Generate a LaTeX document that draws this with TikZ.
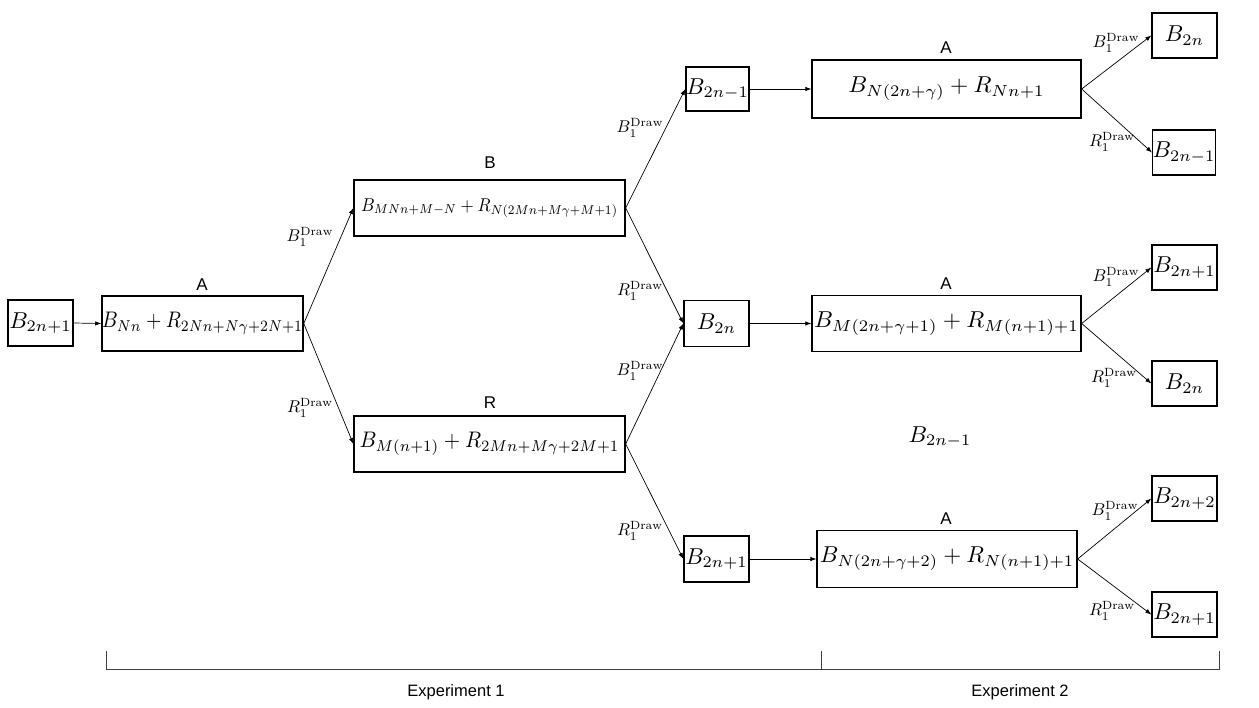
\documentclass[tikz,border=0pt]{standalone}
\usepackage{graphicx}
\usepackage{fontspec}
\setsansfont{Liberation Sans}
\usetikzlibrary{arrows.meta}
\newcommand{\msc}[3]{\scalebox{#1}[#2]{$#3$}}
\newcommand{\mbig}[1]{\msc{2.3}{2.3}{#1}}
\newcommand{\mlab}[1]{\msc{1.7}{1.7}{#1}}
\begin{document}
\begin{tikzpicture}[x=1pt,y=-1pt,
  bx/.style={draw, line width=1.3pt, inner sep=0pt},
  grp/.style={font=\sffamily\fontsize{17}{20}\selectfont, inner sep=0pt},
  lbl/.style={inner sep=0pt},
  arr/.style={-{Latex[length=6pt,width=4.5pt]}, line width=0.7pt},
  brk/.style={line width=0.7pt, draw=black!75}]
\useasboundingbox (0,0) rectangle (1259,708);

% first column
\node[bx, minimum width=65, minimum height=46] (s0) at (40.5,323) {\mbig{B_{2n+1}}};
\node[bx, minimum width=201, minimum height=55] (a1) at (202.5,323.5) {\msc{1.98}{2.25}{B_{Nn}+R_{2Nn+N\gamma+2N+1}}};
\node[grp] at (202,285) {A};

% second column
\node[bx, minimum width=271, minimum height=56] (b) at (489.5,208) {\msc{1.7}{1.85}{B_{MNn+M-N}+R_{N(2Mn+M\gamma+M+1)}}};
\node[grp] at (490,163) {B};
\node[bx, minimum width=271, minimum height=56] (r) at (489.5,444) {\msc{2.11}{2.25}{B_{M(n+1)}+R_{2Mn+M\gamma+2M+1}}};
\node[grp] at (490,403) {R};

% third column
\node[bx, minimum width=63, minimum height=44] (m1) at (717.5,89) {\mbig{B_{2n-1}}};
\node[bx, minimum width=65, minimum height=46] (m2) at (716.5,323.5) {\mbig{B_{2n}}};
\node[bx, minimum width=65, minimum height=46] (m3) at (716.5,559) {\mbig{B_{2n+1}}};

% fourth column
\node[bx, minimum width=269, minimum height=58] (t1) at (946.5,89) {\msc{2.35}{2.3}{B_{N(2n+\gamma)}+R_{Nn+1}}};
\node[grp] at (946,48) {A};
\node[bx, minimum width=269, minimum height=56] (t2) at (946.5,323.5) {\msc{2.35}{2.3}{B_{M(2n+\gamma+1)}+R_{M(n+1)+1}}};
\node[grp] at (946,284) {A};
\node[bx, minimum width=260, minimum height=57] (t3) at (947,559) {\msc{2.31}{2.3}{B_{N(2n+\gamma+2)}+R_{N(n+1)+1}}};
\node[grp] at (946,519) {A};

\node[inner sep=0pt] (free) at (940,437) {\mbig{B_{2n-1}}};

% fifth column
\node[bx, minimum width=65, minimum height=45] (f1) at (1184.5,35.5) {\mbig{B_{2n}}};
\node[bx, minimum width=62, minimum height=45] (f2) at (1184,152.5) {\mbig{B_{2n-1}}};
\node[bx, minimum width=65, minimum height=45] (f3) at (1184.5,267.5) {\mbig{B_{2n+1}}};
\node[bx, minimum width=65, minimum height=45] (f4) at (1184.5,383.5) {\mbig{B_{2n}}};
\node[bx, minimum width=65, minimum height=45] (f5) at (1184.5,498.5) {\mbig{B_{2n+2}}};
\node[bx, minimum width=65, minimum height=45] (f6) at (1184.5,614.5) {\mbig{B_{2n+1}}};

% connectors
\draw[arr] (s0.east) -- (a1.west);
\draw[arr] (a1.east) -- (b.west);
\draw[arr] (a1.east) -- (r.west);
\draw[arr] (b.east) -- (m1.west);
\draw[arr] (b.east) -- (m2.west);
\draw[arr] (r.east) -- (m2.west);
\draw[arr] (r.east) -- (m3.west);
\draw[arr] (m1.east) -- (t1.west);
\draw[arr] (m2.east) -- (t2.west);
\draw[arr] (m3.east) -- (t3.west);
\draw[arr] (t1.east) -- (f1.west);
\draw[arr] (t1.east) -- (f2.west);
\draw[arr] (t2.east) -- (f3.west);
\draw[arr] (t2.east) -- (f4.west);
\draw[arr] (t3.east) -- (f5.west);
\draw[arr] (t3.east) -- (f6.west);

% connector labels
\node[lbl] at (310,237) {\mlab{B_1^{\mathrm{Draw}}}};
\node[lbl] at (310,408) {\mlab{R_1^{\mathrm{Draw}}}};
\node[lbl] at (640,128) {\mlab{B_1^{\mathrm{Draw}}}};
\node[lbl] at (640,291) {\mlab{R_1^{\mathrm{Draw}}}};
\node[lbl] at (640,371) {\mlab{B_1^{\mathrm{Draw}}}};
\node[lbl] at (640,531) {\mlab{R_1^{\mathrm{Draw}}}};
\node[lbl] at (1116,43) {\mlab{B_1^{\mathrm{Draw}}}};
\node[lbl] at (1112,142) {\mlab{R_1^{\mathrm{Draw}}}};
\node[lbl] at (1116,277) {\mlab{B_1^{\mathrm{Draw}}}};
\node[lbl] at (1114,378) {\mlab{R_1^{\mathrm{Draw}}}};
\node[lbl] at (1115,511) {\mlab{B_1^{\mathrm{Draw}}}};
\node[lbl] at (1112,611) {\mlab{R_1^{\mathrm{Draw}}}};

% experiment bracket
\coordinate (e0) at (106,669);
\coordinate (e1) at (821,669);
\coordinate (e2) at (1219,669);
\coordinate (e0t) at (106,651);
\coordinate (e1t) at (821,651);
\coordinate (e2t) at (1219,651);
\draw[brk] (e0t) -- (e0) -- (e2) -- (e2t);
\draw[brk] (e1) -- (e1t);
\node[grp, font=\sffamily\fontsize{16.5}{18}\selectfont] at (456,692) {Experiment 1};
\node[grp, font=\sffamily\fontsize{16.5}{18}\selectfont] at (1020,692) {Experiment 2};
\end{tikzpicture}
\end{document}
